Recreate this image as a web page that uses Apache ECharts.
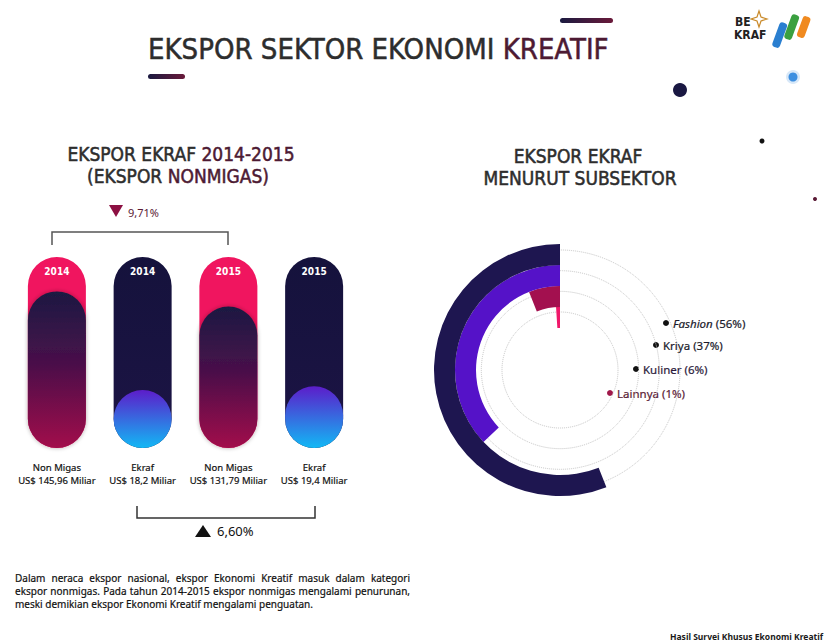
<!DOCTYPE html>
<html><head><meta charset="utf-8">
<script src="https://cdn.jsdelivr.net/npm/echarts@6/dist/echarts.min.js"></script>
<style>html,body{margin:0;padding:0;background:#fff}#c{width:828px;height:643px}</style>
</head><body><div id="c"></div>
<script>
// ---- data ----
const barCategories = ['Non Migas', 'Ekraf', 'Non Migas', 'Ekraf'];
const barYears = ['2014', '2014', '2015', '2015'];
const nonMigasValues = [145.96, null, 131.79, null];
const ekrafValues = [null, 18.2, null, 19.4];
const changeLabels = ['9,71%', '6,60%'];
const subsectors = ['Lainnya', 'Kuliner', 'Kriya', 'Fashion'];
const subsectorShares = [1, 6, 37, 56];
const paragraphLines = [
  'Dalam neraca ekspor nasional, ekspor Ekonomi Kreatif masuk dalam kategori',
  'ekspor nonmigas. Pada tahun 2014-2015 ekspor nonmigas mengalami penurunan,',
  'meski demikian ekspor Ekonomi Kreatif mengalami penguatan.'
];

// ---- styles / layout ----
const NM_MAX = 178, EK_MAX = 60;
const COND = '"DejaVu Sans Condensed","DejaVu Sans",sans-serif';
const SANS = '"Noto Sans","Open Sans",sans-serif';
const G = echarts.graphic;
const nmFill = new G.LinearGradient(0, 0, 0, 1, [
  {offset: 0, color: '#1c1a42'}, {offset: 0.45, color: '#48104a'}, {offset: 1, color: '#a20b4b'}]);
const ekFill = new G.LinearGradient(0, 0, 0, 1, [
  {offset: 0, color: '#5c1dca'}, {offset: 1, color: '#12b8f5'}]);
const navyBg = new G.LinearGradient(0, 0, 0, 1, [
  {offset: 0, color: '#15123c'}, {offset: 1, color: '#1c1445'}]);
const ringColors = ['#f0186a', '#a3104f', '#5512c8', '#1e1650'];
const ringLabelPos = [[610, 393], [636, 369], [656, 345], [666, 323]];
const ringTextColors = ['#5a1a35', '#2a1a3a', '#1a1a2a', '#1a1a2a'];
const ringDotColors = ['#a0184a', '#111', '#111', '#111'];

const xLabels = barCategories.map((c, i) => {
  const v = nonMigasValues[i] != null ? nonMigasValues[i] : ekrafValues[i];
  return c + '\nUS$ ' + String(v).replace('.', ',') + ' Miliar';
});

const graphics = [];
function heading(x, y, text, size, align, rich) {
  const st = {text: text, font: size + 'px ' + COND, fill: '#2d2d2d', stroke: '#2d2d2d', lineWidth: 0.5,
    align: align, verticalAlign: 'middle'};
  if (rich) st.rich = {m: {fill: '#4d1a33', stroke: '#4d1a33', lineWidth: 0.5, font: size + 'px ' + COND}};
  graphics.push({type: 'text', x: x, y: y, style: st});
}
// title
heading(148, 49, 'EKSPOR SEKTOR EKONOMI {m|KREATIF}', 29, 'left', true);
// decorative lines
graphics.push({type: 'rect', shape: {x: 560, y: 18, width: 53, height: 5, r: 2.5},
  style: {fill: new G.LinearGradient(0, 0, 1, 0, [{offset: 0, color: '#1a1a40'}, {offset: 1, color: '#6a1a3a'}])}});
graphics.push({type: 'rect', shape: {x: 148, y: 74, width: 37, height: 5, r: 2.5},
  style: {fill: new G.LinearGradient(0, 0, 1, 0, [{offset: 0, color: '#1a1a40'}, {offset: 1, color: '#6a1a3a'}])}});
// dots
graphics.push({type: 'circle', shape: {cx: 680, cy: 90, r: 7}, style: {fill: '#1a1842'}});
graphics.push({type: 'circle', shape: {cx: 793, cy: 77, r: 7}, style: {fill: '#d8e8f8'}});
graphics.push({type: 'circle', shape: {cx: 793, cy: 77, r: 4.5}, style: {fill: '#3d8fe0'}});
graphics.push({type: 'circle', shape: {cx: 762, cy: 141, r: 2.5}, style: {fill: '#111'}});
graphics.push({type: 'circle', shape: {cx: 815, cy: 199, r: 2}, style: {fill: '#5a1a35'}});
// BEKRAF logo
graphics.push({type: 'text', x: 735, y: 22, style: {text: 'BE', font: 'bold 12px ' + COND, fill: '#222', verticalAlign: 'middle'}});
graphics.push({type: 'text', x: 734, y: 35, style: {text: 'KRAF', font: 'bold 12px ' + COND, fill: '#222', verticalAlign: 'middle'}});
graphics.push({type: 'polygon', shape: {points: [[759, 11], [761, 17], [767, 19], [761, 21], [759, 27], [757, 21], [751, 19], [757, 17]]},
  style: {fill: 'none', stroke: '#c98a2a', lineWidth: 1.2}});
// BPS logo (approximation)
graphics.push({type: 'rect', shape: {x: 776, y: 22, width: 8, height: 26, r: 3}, rotation: -0.35, originX: 780, originY: 35, style: {fill: '#2a7fd0'}});
graphics.push({type: 'rect', shape: {x: 788, y: 14, width: 8, height: 26, r: 3}, rotation: -0.35, originX: 792, originY: 27, style: {fill: '#3aa040'}});
graphics.push({type: 'rect', shape: {x: 800, y: 16, width: 8, height: 22, r: 3}, rotation: -0.35, originX: 804, originY: 27, style: {fill: '#f08a20'}});
// subtitles
heading(181, 154, 'EKSPOR EKRAF {m|2014-2015}', 19, 'center', true);
heading(178, 176, '(EKSPOR {m|NONMIGAS)}', 19, 'center', true);
heading(578, 156, 'EKSPOR EKRAF', 19, 'center', false);
heading(580, 178, 'MENURUT SUBSEKTOR', 19, 'center', false);
// brackets and change annotations
graphics.push({type: 'polyline', shape: {points: [[52, 245], [52, 232], [228, 232], [228, 245]]}, style: {stroke: '#555', lineWidth: 1.5, fill: 'none'}});
graphics.push({type: 'polygon', shape: {points: [[109, 205], [123, 205], [116, 217]]}, style: {fill: '#8c1042'}});
graphics.push({type: 'text', x: 128, y: 212, style: {text: changeLabels[0], font: '11px ' + SANS, fill: '#5a1a35', verticalAlign: 'middle'}});
graphics.push({type: 'polyline', shape: {points: [[137, 506], [137, 518], [315, 518], [315, 506]]}, style: {stroke: '#333', lineWidth: 1.5, fill: 'none'}});
graphics.push({type: 'polygon', shape: {points: [[195, 537], [211, 537], [203, 525]]}, style: {fill: '#111'}});
graphics.push({type: 'text', x: 217, y: 531, style: {text: changeLabels[1], font: '13px ' + SANS, fill: '#111', verticalAlign: 'middle'}});
// paragraph (first two lines justified to the block width)
const measureCtx = document.createElement('canvas').getContext('2d');
measureCtx.font = '10px "Noto Sans"';
paragraphLines.forEach((t, i) => {
  const y = 578 + i * 13;
  const st = {font: '10px ' + SANS, fill: '#111', stroke: '#111', lineWidth: 0.2, verticalAlign: 'middle'};
  if (i === paragraphLines.length - 1) {
    graphics.push({type: 'text', x: 15, y: y, style: Object.assign({text: t}, st)});
    return;
  }
  const words = t.split(' ');
  const total = words.reduce((s, w) => s + measureCtx.measureText(w).width, 0);
  const gap = (395 - total) / (words.length - 1);
  let x = 15;
  words.forEach(w => {
    graphics.push({type: 'text', x: x, y: y, style: Object.assign({text: w}, st)});
    x += measureCtx.measureText(w).width + gap;
  });
});
graphics.push({type: 'text', x: 823, y: 636, style: {text: 'Hasil Survei Khusus Ekonomi Kreatif', font: 'bold 8.5px ' + SANS,
  fill: '#1a1a1a', align: 'right', verticalAlign: 'middle'}});
// ring labels
subsectors.forEach((name, i) => {
  const [x, y] = ringLabelPos[i];
  graphics.push({type: 'circle', shape: {cx: x, cy: y, r: 3}, style: {fill: ringDotColors[i]}});
  const nameTxt = name === 'Fashion' ? '{i|' + name + '}' : name;
  graphics.push({type: 'text', x: x + 7, y: y, style: {text: nameTxt + ' (' + subsectorShares[i] + '%)',
    font: '11.5px ' + SANS, fill: ringTextColors[i], stroke: ringTextColors[i], lineWidth: 0.2, verticalAlign: 'middle',
    rich: {i: {font: 'italic 11.5px ' + SANS, fill: ringTextColors[i], stroke: ringTextColors[i], lineWidth: 0.2}}}});
});

const option = {
  backgroundColor: '#fff',
  animation: false,
  grid: {left: 14, width: 343, top: 257, height: 191},
  xAxis: {type: 'category', data: xLabels, axisLine: {show: false}, axisTick: {show: false},
    axisLabel: {interval: 0, margin: 13, fontSize: 9.5, lineHeight: 13, color: '#111', fontFamily: SANS,
      textBorderColor: '#111', textBorderWidth: 0.2}},
  yAxis: [
    {type: 'value', min: 0, max: NM_MAX, show: false},
    {type: 'value', min: 0, max: EK_MAX, show: false}
  ],
  polar: [
    {center: [560, 370], radius: [42, 126]},
    {center: [560, 370], radius: [58, 120]}
  ],
  angleAxis: [
    {polarIndex: 0, type: 'value', min: 0, max: 100, startAngle: 90, clockwise: false, show: false},
    {polarIndex: 1, type: 'value', min: 0, max: 100, show: false}
  ],
  radiusAxis: [
    {polarIndex: 0, type: 'category', data: subsectors, show: false},
    {polarIndex: 1, type: 'value', min: 0, max: 3, interval: 1, axisLine: {show: false}, axisTick: {show: false},
      axisLabel: {show: false}, splitLine: {show: true, lineStyle: {type: 'dotted', color: '#c4c4c4', width: 1}}}
  ],
  series: [
    {type: 'bar', name: 'bg', yAxisIndex: 0, barWidth: 58, barGap: '-100%', z: 1,
      data: barCategories.map((c, i) => ({value: NM_MAX,
        itemStyle: {color: nonMigasValues[i] != null ? '#f0155f' : navyBg, borderRadius: 29}})),
      label: {show: true, position: 'insideTop', distance: 9, formatter: p => barYears[p.dataIndex],
        color: '#fff', fontSize: 10, fontWeight: 'bold', fontFamily: COND}},
    {type: 'bar', name: 'Non Migas', yAxisIndex: 0, barWidth: 58, barGap: '-100%', z: 2,
      data: nonMigasValues.map(v => v == null ? '-' : v),
      itemStyle: {color: nmFill, borderRadius: 29, shadowColor: 'rgba(40,0,20,0.35)', shadowBlur: 4}},
    {type: 'bar', name: 'Ekraf', yAxisIndex: 1, barWidth: 58, barGap: '-100%', z: 2,
      data: ekrafValues.map(v => v == null ? '-' : v),
      itemStyle: {color: ekFill, borderRadius: 29}},
    {type: 'bar', name: 'Subsektor', coordinateSystem: 'polar', polarIndex: 0, barCategoryGap: '0%', z: 3,
      data: subsectorShares.map((v, i) => ({value: v, itemStyle: {color: ringColors[i]}}))}
  ],
  graphic: graphics
};
const chart = echarts.init(document.getElementById('c'), null, {renderer: 'svg', width: 828, height: 643});
chart.setOption(option);
</script></body></html>
